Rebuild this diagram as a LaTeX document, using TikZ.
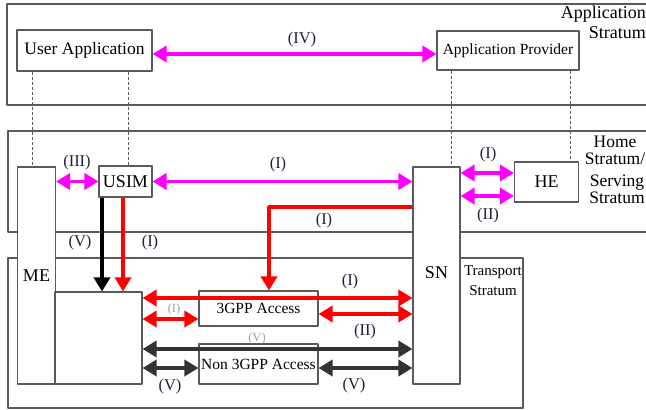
\documentclass[tikz,border=0pt]{standalone}
\usepackage{fontspec}
\setmainfont{Liberation Serif}
\newfontfamily\diagfont{Liberation Serif}
\usetikzlibrary{arrows.meta}
\definecolor{boxline}{HTML}{5A5A5A}
\definecolor{magline}{HTML}{FF00FF}
\definecolor{redline}{HTML}{FF0000}
\definecolor{darkline}{HTML}{333333}
\definecolor{labtext}{HTML}{1E2238}
\begin{document}
\begin{tikzpicture}[x=1pt, y=-1pt, line join=round, >={Triangle[length=14pt,width=16pt]},
		font=\diagfont\fontsize{15.5}{17}\selectfont,
		box/.style={draw=boxline, line width=1.1pt, fill=white, inner sep=0pt},
		big/.style={font=\diagfont\fontsize{18}{20}\selectfont},
		stratum/.style={draw=boxline, line width=1.1pt},
		guide/.style={draw=boxline, line width=0.7pt, dash pattern=on 3pt off 2pt},
		mag/.style={magline, line width=3.5pt},
		rd/.style={redline, line width=3.5pt},
		dk/.style={darkline, line width=3.5pt},
		lab/.style={labtext, font=\diagfont\fontsize{16.5}{18}\selectfont},
		faint/.style={gray!75, font=\diagfont\fontsize{12.5}{13}\selectfont}]
	\useasboundingbox (0,0) rectangle (646,410);
	% strata
	\draw[stratum] (7,4) rectangle (680,105);
	\draw[stratum] (8,131) rectangle (680,232);
	\draw[stratum] (8,258) rectangle (523,408);
	\node[big, align=right, anchor=north east, inner sep=0pt] (apptxt) at (646,6) {Application\\Stratum};
	\node[font=\diagfont\fontsize{17.5}{17}\selectfont, align=center, inner sep=1pt] (hometxt) at (615,150) {Home\\Stratum/};
	\node[font=\diagfont\fontsize{17.5}{17}\selectfont, align=center] (servtxt) at (617,189) {Serving\\Stratum};
	\node[font=\diagfont\fontsize{15}{20}\selectfont, align=center] (transtxt) at (493,281) {Transport\\Stratum};
	% entities
	\node[box, minimum width=135pt, minimum height=41pt, font=\diagfont\fontsize{17.5}{19}\selectfont] (userapp) at (84.5,50.5) {User Application};
	\node[box, minimum width=142pt, minimum height=39pt] (appprov) at (508,50.5) {Application Provider};
	\draw[guide] (userapp.south -| 32,0) -- (32,167);
	\draw[guide] (userapp.south -| 128,0) -- (128,166);
	\draw[guide] (appprov.south -| 451,0) -- (451,167);
	\draw[guide] (appprov.south -| 570,0) -- (570,162);
	\node[box, big, minimum width=38pt, minimum height=217pt] (me) at (36.5,275.5) {\raisebox{-2pt}{ME}};
	\node[box, big, minimum width=53pt, minimum height=31pt] (usim) at (125.5,181.5) {USIM};
	\node[box, big, minimum width=47pt, minimum height=217pt] (sn) at (436.5,275.5) {\raisebox{5pt}{SN}};
	\node[box, big, minimum width=64pt, minimum height=40pt] (he) at (546.5,182) {HE};
	\node[box, minimum width=87pt, minimum height=92pt] (term) at (98.5,338) {};
	\node[box, minimum width=119pt, minimum height=35pt] (gpp) at (258.5,308.5) {3GPP Access};
	\node[box, minimum width=119pt, minimum height=40pt] (ngpp) at (258.5,364) {Non 3GPP Access};
	% levels of the links
	\coordinate (lvIV) at (0,54);
	\coordinate (lvHa) at (0,173);
	\coordinate (lvHb) at (0,196);
	\coordinate (bend) at (269,207);
	\coordinate (lvA) at (0,298);
	\coordinate (lvB) at (0,319);
	\coordinate (lvC) at (0,314);
	\coordinate (lvD) at (0,349);
	\coordinate (lvE) at (0,368);
	\coordinate (kx) at (102,0);
	\coordinate (rx) at (123,0);
	% links
	\draw[mag, <->] (userapp.east |- lvIV) -- (appprov.west |- lvIV);
	\draw[mag, <->] (me.east |- usim.west) -- (usim.west);
	\draw[mag, <->] (usim.east) -- (usim.east -| sn.west);
	\draw[mag, <->] (sn.east |- lvHa) -- (he.west |- lvHa);
	\draw[mag, <->] (sn.east |- lvHb) -- (he.west |- lvHb);
	\draw[rd, ->] (sn.west |- bend) -- (bend) -- (bend |- gpp.north);
	\draw[black, line width=4pt, ->] (kx |- usim.south) -- (kx |- term.north);
	\draw[rd, ->] (rx |- usim.south) -- (rx |- term.north);
	\draw[rd, <->] (term.east |- lvA) -- (sn.west |- lvA);
	\draw[rd, <->] (term.east |- lvB) -- (gpp.west |- lvB);
	\draw[rd, <->] (gpp.east |- lvC) -- (sn.west |- lvC);
	\draw[dk, <->] (term.east |- lvD) -- (sn.west |- lvD);
	\draw[dk, <->] (term.east |- lvE) -- (ngpp.west |- lvE);
	\draw[dk, <->] (ngpp.east |- lvE) -- (sn.west |- lvE);
	% labels
	\node[lab] (lIV) at (302,40) {(IV)};
	\node[lab] (lIII) at (77,163) {(III)};
	\node[lab] (lIa) at (278,165) {(I)};
	\node[lab] (lIb) at (488,155) {(I)};
	\node[lab] (lIIa) at (488,216) {(II)};
	\node[lab] (lIc) at (324,221) {(I)};
	\node[lab] (lVa) at (80,243) {(V)};
	\node[lab] (lId) at (150,243) {(I)};
	\node[lab] (lIe) at (350,282) {(I)};
	\node[faint] (lIf) at (174,309) {(I)};
	\node[lab] (lIIb) at (365,332) {(II)};
	\node[faint] (lVb) at (257,338) {(V)};
	\node[lab] (lVc) at (170,387) {(V)};
	\node[lab] (lVd) at (354,386) {(V)};
\end{tikzpicture}
\end{document}
